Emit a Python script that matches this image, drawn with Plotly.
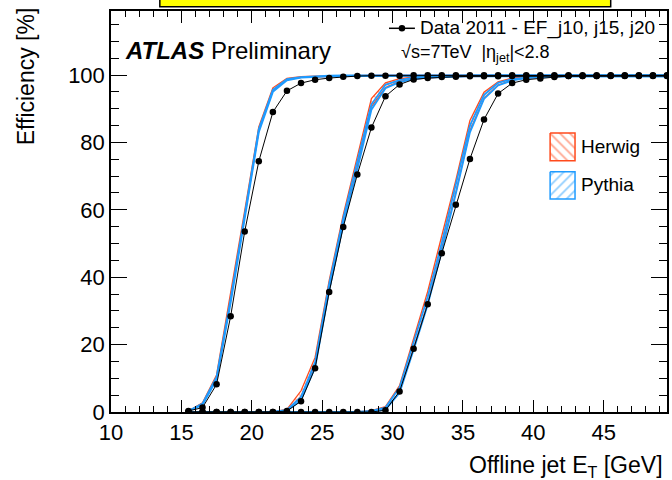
import plotly.graph_objects as go

# ---------------- data ----------------
et_bins = [15.5, 16.5, 17.5, 18.5, 19.5, 20.5, 21.5, 22.5, 23.5, 24.5,
           25.5, 26.5, 27.5, 28.5, 29.5, 30.5, 31.5, 32.5, 33.5, 34.5,
           35.5, 36.5, 37.5, 38.5, 39.5, 40.5, 41.5, 42.5, 43.5, 44.5,
           45.5, 46.5, 47.5, 48.5, 49.5]

data_j10 = [0.3, 1.3, 8.2, 28.4, 53.6, 74.4, 89.0, 95.3, 97.6, 98.6,
            99.1, 99.5, 99.7, 99.8, 99.8, 99.8, 99.9, 99.9, 99.9, 99.9,
            99.9, 99.9, 99.9, 99.9, 99.9, 99.9, 99.9, 99.9, 99.9, 99.9,
            99.9, 99.9, 99.9, 99.9, 99.9]
data_j15 = [0.0, 0.0, 0.0, 0.0, 0.0, 0.0, 0.0, 0.3, 3.2, 13.0,
            35.6, 54.9, 70.5, 84.4, 93.7, 97.2, 98.7, 99.1, 99.4, 99.5,
            99.6, 99.6, 99.6, 99.7, 99.7, 99.7, 99.7, 99.7, 99.7, 99.7,
            99.7, 99.7, 99.7, 99.7, 99.7]
data_j20 = [0.0, 0.0, 0.0, 0.0, 0.0, 0.0, 0.0, 0.0, 0.0, 0.0,
            0.0, 0.0, 0.0, 0.0, 0.5, 6.1, 18.8, 32.0, 47.1, 61.5,
            75.1, 86.8, 94.5, 97.6, 98.6, 99.0, 99.4, 99.7, 99.7, 99.7,
            99.8, 99.8, 99.8, 99.8, 99.8]

pythia_j10 = [0.3, 2.3, 10.0, 33.0, 58.0, 83.5, 95.3, 98.6, 99.3, 99.6,
              99.7, 99.8, 99.8, 99.8, 99.9, 99.9, 99.9, 99.9, 99.9, 99.9,
              99.9, 99.9, 99.9, 99.9, 99.9, 99.9, 99.9, 99.9, 99.9, 99.9,
              99.9, 99.9, 99.9, 99.9, 99.9]
herwig_j10 = [0.3, 2.5, 10.5, 34.0, 59.0, 84.0, 95.8, 98.8, 99.4, 99.6,
              99.7, 99.8, 99.8, 99.8, 99.9, 99.9, 99.9, 99.9, 99.9, 99.9,
              99.9, 99.9, 99.9, 99.9, 99.9, 99.9, 99.9, 99.9, 99.9, 99.9,
              99.9, 99.9, 99.9, 99.9, 99.9]
pythia_j15 = [0.0, 0.0, 0.0, 0.0, 0.0, 0.0, 0.0, 0.5, 4.0, 14.0,
              37.0, 56.5, 73.0, 90.5, 96.6, 98.2, 99.0, 99.3, 99.5, 99.6,
              99.7, 99.7, 99.7, 99.7, 99.7, 99.7, 99.7, 99.7, 99.7, 99.7,
              99.7, 99.7, 99.7, 99.7, 99.7]
herwig_j15 = [0.0, 0.0, 0.0, 0.0, 0.0, 0.0, 0.0, 0.6, 5.5, 15.0,
              37.5, 57.0, 74.5, 91.8, 97.0, 98.5, 99.1, 99.4, 99.5, 99.6,
              99.7, 99.7, 99.7, 99.7, 99.7, 99.7, 99.7, 99.7, 99.7, 99.7,
              99.7, 99.7, 99.7, 99.7, 99.7]
pythia_j20 = [0.0, 0.0, 0.0, 0.0, 0.0, 0.0, 0.0, 0.0, 0.0, 0.0,
              0.0, 0.0, 0.0, 0.2, 1.0, 6.5, 19.5, 33.0, 49.0, 66.0,
              84.0, 93.5, 97.3, 98.6, 99.2, 99.5, 99.6, 99.7, 99.7, 99.7,
              99.7, 99.7, 99.7, 99.7, 99.7]
herwig_j20 = [0.0, 0.0, 0.0, 0.0, 0.0, 0.0, 0.0, 0.0, 0.0, 0.0,
              0.0, 0.0, 0.0, 0.3, 1.2, 6.8, 20.5, 34.0, 50.5, 67.0,
              85.0, 94.0, 97.5, 98.8, 99.3, 99.5, 99.6, 99.7, 99.7, 99.7,
              99.7, 99.7, 99.7, 99.7, 99.7]

# half widths of the MC bands
pythia_j10_err = [0.0, 0.2, 0.4, 0.6, 0.6, 0.5, 0.3, 0.2, 0.1, 0.1,
                  0.1, 0.1, 0.1, 0.1, 0.1, 0.1, 0.1, 0.1, 0.1, 0.1,
                  0.1, 0.1, 0.1, 0.1, 0.1, 0.1, 0.1, 0.1, 0.1, 0.1,
                  0.1, 0.1, 0.1, 0.1, 0.1]
herwig_j10_err = [0.0, 0.2, 0.5, 0.8, 0.8, 0.6, 0.4, 0.2, 0.1, 0.1,
                  0.1, 0.1, 0.1, 0.1, 0.1, 0.1, 0.1, 0.1, 0.1, 0.1,
                  0.1, 0.1, 0.1, 0.1, 0.1, 0.1, 0.1, 0.1, 0.1, 0.1,
                  0.1, 0.1, 0.1, 0.1, 0.1]
pythia_j15_err = [0.0, 0.0, 0.0, 0.0, 0.0, 0.0, 0.0, 0.1, 0.5, 0.8,
                  1.0, 1.0, 1.0, 0.8, 0.5, 0.3, 0.2, 0.1, 0.1, 0.1,
                  0.1, 0.1, 0.1, 0.1, 0.1, 0.1, 0.1, 0.1, 0.1, 0.1,
                  0.1, 0.1, 0.1, 0.1, 0.1]
herwig_j15_err = [0.0, 0.0, 0.0, 0.0, 0.0, 0.0, 0.0, 0.2, 0.8, 1.2,
                  1.5, 1.5, 1.5, 1.2, 0.7, 0.4, 0.3, 0.2, 0.1, 0.1,
                  0.1, 0.1, 0.1, 0.1, 0.1, 0.1, 0.1, 0.1, 0.1, 0.1,
                  0.1, 0.1, 0.1, 0.1, 0.1]
pythia_j20_err = [0.0, 0.0, 0.0, 0.0, 0.0, 0.0, 0.0, 0.0, 0.0, 0.0,
                  0.0, 0.0, 0.0, 0.1, 0.3, 0.8, 1.0, 1.2, 1.2, 1.2,
                  1.0, 0.6, 0.4, 0.2, 0.1, 0.1, 0.1, 0.1, 0.1, 0.1,
                  0.1, 0.1, 0.1, 0.1, 0.1]
herwig_j20_err = [0.0, 0.0, 0.0, 0.0, 0.0, 0.0, 0.0, 0.0, 0.0, 0.0,
                  0.0, 0.0, 0.0, 0.1, 0.4, 1.0, 1.5, 1.8, 1.8, 1.8,
                  1.5, 0.9, 0.5, 0.3, 0.2, 0.1, 0.1, 0.1, 0.1, 0.1,
                  0.1, 0.1, 0.1, 0.1, 0.1]

x_ticks = [10, 15, 20, 25, 30, 35, 40, 45]
y_ticks = [0, 20, 40, 60, 80, 100]

HERWIG = "#ff4a1c"
PYTHIA = "#1e9bff"
FONT = "Liberation Sans, Arial, Helvetica, sans-serif"

# ---------------- layout geometry (pixels) ----------------
W, H = 672, 480
ML, MR, MT, MB = 111, 3, 11, 68
PW, PH = W - ML - MR, H - MT - MB


def px(xp):
    return (xp - ML) / PW


def py(yp):
    return (H - MB - yp) / PH


fig = go.Figure()


def add_band(center, err, color, shape, lw):
    lo = [max(0.0, c - e) for c, e in zip(center, err)]
    hi = [min(100.0, c + e) for c, e in zip(center, err)]
    fig.add_trace(go.Scatter(x=et_bins, y=lo, mode="lines",
                             line=dict(color=color, width=lw),
                             hoverinfo="skip", showlegend=False))
    fig.add_trace(go.Scatter(x=et_bins, y=hi, mode="lines",
                             line=dict(color=color, width=lw),
                             fill="tonexty", fillcolor="rgba(0,0,0,0)",
                             fillpattern=dict(shape=shape, fgcolor=color,
                                              bgcolor="rgba(0,0,0,0)",
                                              size=6, solidity=0.2),
                             hoverinfo="skip", showlegend=False))


for hc, he in [(herwig_j10, herwig_j10_err), (herwig_j15, herwig_j15_err),
               (herwig_j20, herwig_j20_err)]:
    add_band(hc, he, HERWIG, "\\", 1.3)
for pc, pe in [(pythia_j10, pythia_j10_err), (pythia_j15, pythia_j15_err),
               (pythia_j20, pythia_j20_err)]:
    add_band(pc, pe, PYTHIA, "/", 1.8)

for d in [data_j10, data_j15, data_j20]:
    fig.add_trace(go.Scatter(x=et_bins, y=d, mode="lines+markers",
                             line=dict(color="black", width=1),
                             marker=dict(color="black", size=6.5),
                             showlegend=False))

# ---------------- legend decorations (pixel overlay axes) ----------------
fig.add_trace(go.Scatter(x=[390, 416], y=[28.3, 28.3], mode="lines",
                         line=dict(color="black", width=1.5),
                         xaxis="x2", yaxis="y2", showlegend=False))
fig.add_trace(go.Scatter(x=[403], y=[28.3], mode="markers",
                         marker=dict(color="black", size=6.5),
                         xaxis="x2", yaxis="y2", showlegend=False))
for (y0, y1), color, shape in [((133, 160.7), HERWIG, "\\"),
                               ((171.7, 199), PYTHIA, "/")]:
    fig.add_trace(go.Scatter(x=[551.7, 576.7, 576.7, 551.7, 551.7],
                             y=[y0, y0, y1, y1, y0], mode="lines",
                             line=dict(color=color, width=1.5),
                             fill="toself", fillcolor="white",
                             fillpattern=dict(shape=shape, fgcolor=color,
                                              bgcolor="white", size=7,
                                              solidity=0.25),
                             xaxis="x2", yaxis="y2", showlegend=False))

tickfont = dict(family=FONT, size=22, color="black")
fig.update_layout(
    width=W, height=H,
    margin=dict(l=ML, r=MR, t=MT, b=MB),
    paper_bgcolor="white", plot_bgcolor="white",
    showlegend=False,
    font=dict(family=FONT, color="black"),
    xaxis=dict(range=[10, 49.5], tickvals=x_ticks, ticks="inside",
               ticklen=12, tickwidth=1, tickcolor="black",
               minor=dict(dtick=1, ticks="inside", ticklen=6,
                          tickcolor="black"),
               showline=True, linecolor="black", linewidth=1.5,
               mirror="allticks", showgrid=False, zeroline=False,
               tickfont=tickfont),
    yaxis=dict(range=[0, 119], tickvals=y_ticks, ticks="inside",
               ticklen=16, tickwidth=1, tickcolor="black",
               minor=dict(dtick=5, ticks="inside", ticklen=8,
                          tickcolor="black"),
               showline=True, linecolor="black", linewidth=1.5,
               mirror="allticks", showgrid=False, zeroline=False,
               tickfont=tickfont),
    xaxis2=dict(overlaying="x", range=[ML, W - MR], visible=False),
    yaxis2=dict(overlaying="y", range=[H - MB, MT], visible=False),
)

fig.add_shape(type="rect", xref="paper", yref="paper",
              x0=px(160), x1=px(612.5), y0=py(6.7), y1=py(-10),
              fillcolor="#ffff00", line=dict(color="black", width=1.5),
              layer="above")

ann = [
    dict(text="Efficiency [%]", x=px(26), y=py(5), xanchor="center",
         yanchor="top", textangle=-90, font=dict(size=23)),
    dict(text="Offline jet E<sub>T</sub> [GeV]", x=px(667), y=py(466),
         xanchor="right", yanchor="middle", font=dict(size=23)),
    dict(text="<b><i>ATLAS</i></b> Preliminary", x=px(123), y=py(50),
         xanchor="left", yanchor="middle", font=dict(size=24)),
    dict(text="Data 2011 - EF_j10, j15, j20", x=px(419), y=py(28.3),
         xanchor="left", yanchor="middle", font=dict(size=19)),
    dict(text="√s=7TeV  |η<sub>jet</sub>|&lt;2.8", x=px(400), y=py(53),
         xanchor="left", yanchor="middle", font=dict(size=18)),
    dict(text="Herwig", x=px(581), y=py(146.7), xanchor="left",
         yanchor="middle", font=dict(size=19)),
    dict(text="Pythia", x=px(581), y=py(184), xanchor="left",
         yanchor="middle", font=dict(size=19)),
]
for a in ann:
    a.update(xref="paper", yref="paper", showarrow=False)
    a["font"].update(family=FONT, color="black")
fig.update_layout(annotations=ann)

fig.write_html("out.html")
